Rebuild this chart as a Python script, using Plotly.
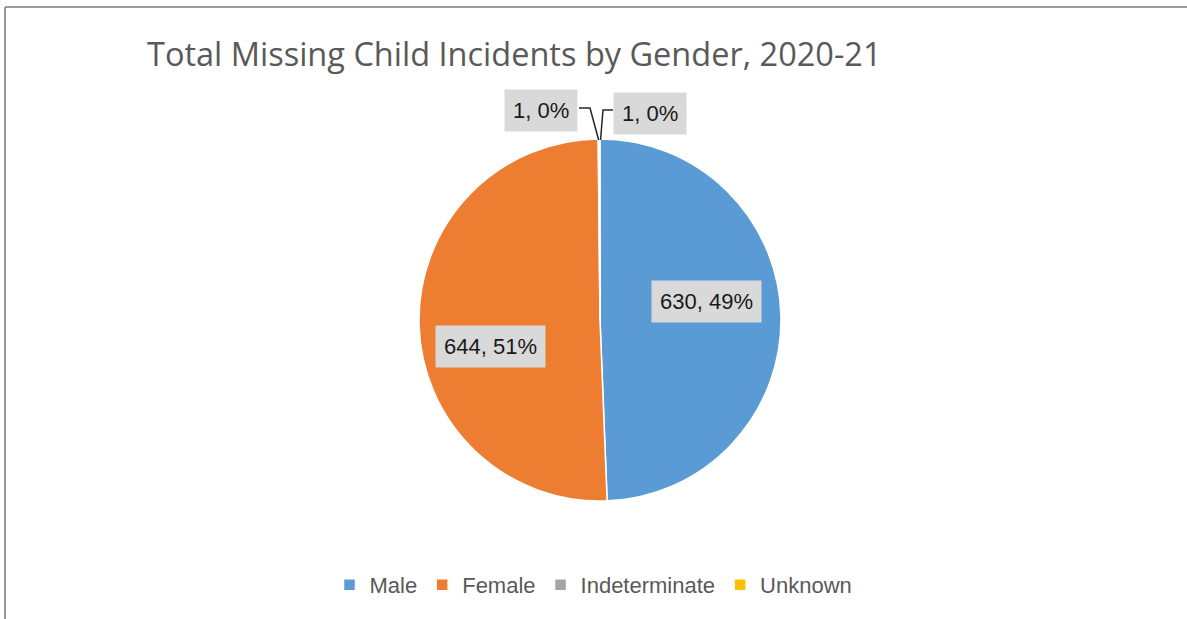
import math
import plotly.graph_objects as go

# ---- data ----
labels = ["Male", "Female", "Indeterminate", "Unknown"]
counts = [630, 644, 1, 1]
pct_text = ["49%", "51%", "0%", "0%"]
colors = ["#5B9BD5", "#ED7D31", "#A5A5A5", "#FFC000"]
title = "Total Missing Child Incidents by Gender, 2020-21"

W, H = 1187, 619
CX, CY, R = 600, 320, 181  # pie centre / radius in pixels


def px(x):
    return x / W


def py(y):
    return 1 - y / H


fig = go.Figure(go.Pie(
    labels=labels, values=counts, sort=False, direction="clockwise", rotation=0,
    marker=dict(colors=colors, line=dict(color="white", width=1.5)),
    textinfo="none", hoverinfo="label+value+percent",
    domain=dict(x=[px(CX - R), px(CX + R)], y=[py(CY + R), py(CY - R)]),
))

# angle of each slice mid (clockwise from 12 o'clock)
total = sum(counts)
mids = []
acc = 0
for v in counts:
    mids.append((acc + v / 2) / total * 2 * math.pi)
    acc += v

# label placement (pixel offsets of box centre from pie centre) - style
label_pos = [(106, -19), (-110, 26), (-59, -209), (50, -207)]
annotations = []
for i, (v, p) in enumerate(zip(counts, pct_text)):
    dx, dy = label_pos[i]
    annotations.append(dict(
        x=px(CX + dx), y=py(CY + dy), xref="paper", yref="paper",
        text=f"{v}, {p}", showarrow=False, bgcolor="#D9D9D9",
        font=dict(family="Liberation Sans, Arial", size=22, color="#1a1a1a"),
        borderpad=8, xanchor="center", yanchor="middle",
    ))

shapes = []
# leader lines for the two small slices
for i, (bx, by) in [(2, (590, 108)), (3, (603, 110))]:
    ex = CX + R * math.sin(mids[i])
    ey = CY - R * math.cos(mids[i])
    if i == 2:
        pts = [(579, 108), (bx, by), (ex, ey + 1)]
    else:
        pts = [(ex + 1, ey + 1), (bx, by), (613, 110)]
    path = "M " + " L ".join(f"{px(a)},{py(b)}" for a, b in pts)
    shapes.append(dict(type="path", path=path, xref="paper", yref="paper",
                       line=dict(color="#262626", width=1.5)))

# chart border (top & left)
shapes.append(dict(type="line", xref="paper", yref="paper", x0=px(5), x1=1.0,
                   y0=py(7), y1=py(7), line=dict(color="#9a9a9a", width=2)))
shapes.append(dict(type="line", xref="paper", yref="paper", x0=px(5), x1=px(5),
                   y0=py(7), y1=0, line=dict(color="#9a9a9a", width=2)))

fig.update_layout(
    width=W, height=H,
    margin=dict(l=0, r=0, t=0, b=0),
    paper_bgcolor="white", plot_bgcolor="white",
    title=dict(text=title, x=px(147), xanchor="left", y=py(55), yanchor="middle",
               font=dict(family="Open Sans, Liberation Sans", size=32.5, color="#595959")),
    legend=dict(orientation="h", x=0.5, xanchor="center", y=py(585), yanchor="middle",
                font=dict(family="Liberation Sans, Arial", size=22, color="#595959"),
                itemwidth=30, traceorder="normal"),
    annotations=annotations,
    shapes=shapes,
)

fig.write_html("out.html", config={"displayModeBar": False},
               post_script="document.body.style.margin='0';document.body.style.overflow='hidden';")
